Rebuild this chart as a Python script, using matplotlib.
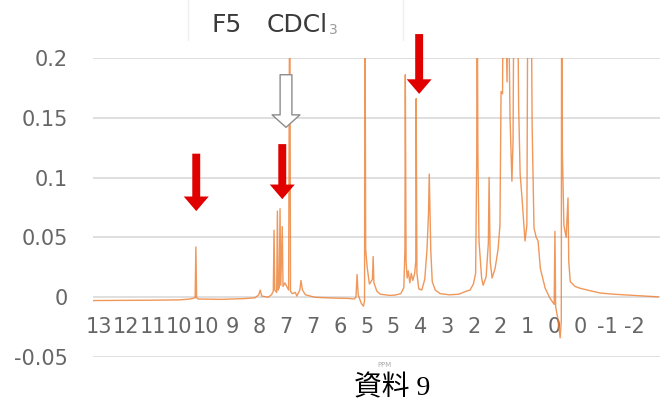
import matplotlib
matplotlib.use("Agg")
import matplotlib.pyplot as plt
from matplotlib.lines import Line2D
import numpy as np

# spectrum: chemical shift (ppm) and intensity
ppm = [12.53, 11.8, 11.0, 10.2, 9.93, 9.80, 9.78, 9.76, 9.72, 9.1, 8.5, 8.2,
       8.10, 8.06, 8.02, 7.85, 7.76, 7.71, 7.69, 7.67, 7.62, 7.60, 7.58, 7.55,
       7.53, 7.51, 7.47, 7.45, 7.40, 7.30, 7.27, 7.25, 7.20, 7.12, 7.08, 7.00,
       6.97, 6.93, 6.85, 6.6, 6.3, 6.0, 5.7, 5.55, 5.50, 5.47, 5.44, 5.36,
       5.30, 5.27, 5.26, 5.24, 5.20, 5.14, 5.06, 5.04, 5.02, 4.94, 4.85, 4.6,
       4.45, 4.30, 4.22, 4.19, 4.18, 4.16, 4.13, 4.10, 4.06, 4.02, 3.98, 3.93,
       3.90, 3.89, 3.87, 3.82, 3.74, 3.66, 3.60, 3.56, 3.54, 3.50, 3.46, 3.38,
       3.25, 3.0, 2.75, 2.55, 2.45, 2.36, 2.30, 2.27, 2.26, 2.24, 2.21, 2.14,
       2.10, 2.02, 1.96, 1.94, 1.91, 1.86, 1.78, 1.70, 1.65, 1.62, 1.58, 1.56,
       1.54, 1.50, 1.46, 1.43, 1.40, 1.38, 1.33, 1.30, 1.27, 1.23, 1.19, 1.15,
       1.11, 1.06, 0.98, 0.93, 0.90, 0.86, 0.82, 0.79, 0.74, 0.68, 0.63, 0.57,
       0.44, 0.31, 0.20, 0.18, 0.16, 0.09, 0.04, 0.01, 0.00, -0.02, -0.06,
       -0.12, -0.17, -0.19, -0.23, -0.36, -0.49, -0.75, -1.03, -1.4, -1.83,
       -2.2, -2.58]
intensity = [-0.0028, -0.0027, -0.0025, -0.0022, -0.0015, -0.0005, 0.042, -0.0005,
             -0.0015, -0.0018, -0.0012, -0.0005, 0.002, 0.006, 0.001, 0.0, 0.002,
             0.005, 0.056, 0.006, 0.004, 0.072, 0.006, 0.008, 0.074, 0.010, 0.059,
             0.009, 0.012, 0.006, 0.3, 0.005, 0.003, 0.004, 0.001, 0.006, 0.014,
             0.006, 0.002, 0.0, -0.0005, -0.0008, -0.001, -0.0015, 0.0, 0.019,
             0.002, -0.005, -0.0075, -0.003, 0.3, 0.04, 0.025, 0.011, 0.015, 0.034,
             0.012, 0.005, 0.0025, 0.0015, 0.0018, 0.003, 0.008, 0.04, 0.186, 0.03,
             0.016, 0.022, 0.012, 0.02, 0.014, 0.02, 0.03, 0.166, 0.02, 0.007,
             0.006, 0.015, 0.04, 0.07, 0.103, 0.04, 0.013, 0.006, 0.003, 0.002,
             0.0025, 0.005, 0.006, 0.011, 0.02, 0.12, 0.3, 0.122, 0.047, 0.016,
             0.01, 0.017, 0.045, 0.1, 0.03, 0.016, 0.024, 0.04, 0.06, 0.172, 0.17,
             0.3, 0.2, 0.25, 0.18, 0.3, 0.2, 0.15, 0.097, 0.13, 0.3, 0.22, 0.3,
             0.16, 0.103, 0.083, 0.047, 0.06, 0.3, 0.2, 0.3, 0.145, 0.058, 0.05,
             0.047, 0.024, 0.0075, -0.001, -0.006, 0.055, -0.008, -0.02, -0.034,
             -0.02, 0.3, 0.12, 0.06, 0.05, 0.083, 0.03, 0.013, 0.009, 0.0075,
             0.0055, 0.0035, 0.0025, 0.0017, 0.001, 0.0003]

tick_labels = ["13", "12", "11", "10", "10", "9", "8", "7", "7", "6", "5", "5",
               "4", "3", "2", "2", "1", "0", "0", "-1", "-2"]
y_ticks = [-0.05, 0, 0.05, 0.1, 0.15, 0.2]

# marked peaks (ppm of the arrow)
red_marks = [9.77, 7.47, 3.81]
open_mark = 7.37

fig = plt.figure(figsize=(6.63, 4.03), dpi=100)
ax = fig.add_axes([0.1403, 0.1141, 0.8552, 0.7420])

ax.plot(ppm, intensity, color="#ED7D31", lw=1.0, alpha=0.8, zorder=3)

ax.set_xlim(12.53, -2.63)
ax.set_ylim(-0.05, 0.2)
ax.set_yticks(y_ticks)
ax.set_yticklabels(["-0.05", "0", "0.05", "0.1", "0.15", "0.2"])
ax.set_xticks(np.linspace(12.37, -1.94, len(tick_labels)))
ax.set_xticklabels(tick_labels)
ax.spines["bottom"].set_position(("data", 0.0))
for s in ax.spines.values():
    s.set_visible(False)
ax.tick_params(axis="both", length=0, labelsize=15, labelcolor="#666666")
ax.tick_params(axis="y", pad=18)
ax.tick_params(axis="x", pad=14)
ax.yaxis.grid(True, color="#d9d9d9", lw=1.2)
ax.set_axisbelow(True)

# arrows
arr_y = [(0.12, 0.072), (0.128, 0.082), (0.22, 0.17)]
for x, (y0, y1) in zip(red_marks, arr_y):
    ax.annotate("", xy=(x, y1), xytext=(x, y0), annotation_clip=False,
                arrowprops=dict(arrowstyle="simple,head_width=1.8,head_length=1.05,tail_width=0.57",
                                fc="#E00000", ec="none", shrinkA=0, shrinkB=0,
                                mutation_scale=10))
ax.annotate("", xy=(open_mark, 0.142), xytext=(open_mark, 0.186), annotation_clip=False,
            arrowprops=dict(arrowstyle="simple,head_width=2.0,head_length=0.9,tail_width=0.85",
                            fc="white", ec="#8c8c8c", lw=1, shrinkA=0, shrinkB=0,
                            mutation_scale=10))

# faint edges of the title box
for xe in (188 / 663, 403 / 663):
    fig.add_artist(Line2D([xe, xe], [1 - 40 / 403, 1.0], transform=fig.transFigure,
                          color="#efefef", lw=1))
fig.text(212 / 663, 1 - 25 / 403, "F5", fontsize=18, color="#3a3a3a",
         ha="left", va="center")
fig.text(267 / 663, 1 - 25 / 403, "CDCl", fontsize=18, color="#3a3a3a",
         ha="left", va="center")
fig.text(329 / 663, 1 - 30 / 403, "3", fontsize=10, color="#9a9a9a",
         ha="left", va="center")

fig.text(384 / 663, 1 - 365 / 403, "PPM", fontsize=5, color="#aaaaaa",
         ha="center", va="center")
fig.text(392 / 663, 1 - 388 / 403, "資料 9", fontsize=20, color="black",
         ha="center", va="center", family=["Liberation Serif", "Noto Sans CJK JP"])

fig.savefig("out.png", dpi=100)
